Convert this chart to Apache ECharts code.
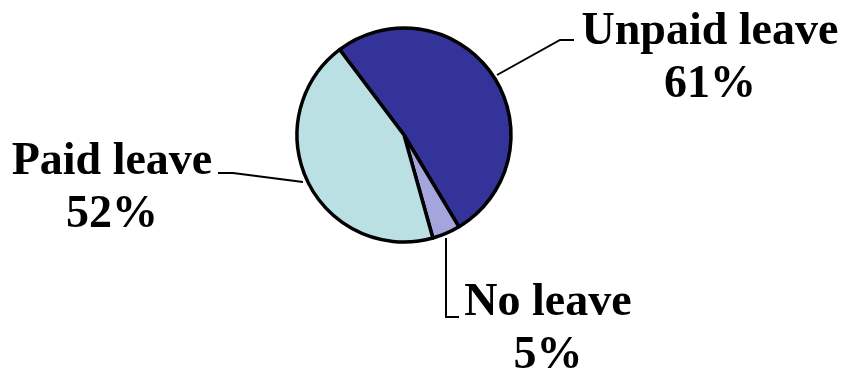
<!DOCTYPE html>
<html>
<head>
<meta charset="utf-8">
<script src="https://cdn.jsdelivr.net/npm/echarts@6/dist/echarts.min.js"></script>
<style>html,body{margin:0;padding:0;background:#fff;}#c{width:845px;height:375px;}</style>
</head>
<body>
<div id="c"></div>
<script>
var categories = ['Unpaid leave', 'No leave', 'Paid leave'];
var values = [61, 5, 52];
var colors = ['#333399', '#A5A5DE', '#BBE0E3'];

// label anchor positions and leader-line points (layout only)
var labelPos = [
  {x: 710, y: 59, line: [[497, 75], [560, 40], [574, 40]]},
  {x: 548, y: 330, line: [[446, 238], [446, 317], [459, 317]]},
  {x: 112, y: 189, line: [[303, 182], [233, 173], [218, 173]]}
];

var chart = echarts.init(document.getElementById('c'), null, {renderer: 'canvas'});
chart.setOption({
  animation: false,
  backgroundColor: '#fff',
  series: [{
    type: 'pie',
    center: [404, 135],
    radius: 107,
    startAngle: 127,
    clockwise: true,
    avoidLabelOverlap: false,
    data: categories.map(function (c, i) {
      return {name: c, value: values[i], itemStyle: {color: colors[i]}};
    }),
    itemStyle: {borderColor: '#000', borderWidth: 3.5},
    label: {
      show: true,
      formatter: '{b}\n{c}%',
      fontFamily: 'Liberation Serif',
      fontWeight: 'bold',
      fontSize: 46,
      lineHeight: 53,
      color: '#000',
      align: 'center'
    },
    labelLine: {show: true, lineStyle: {color: '#000', width: 2}},
    labelLayout: function (p) {
      var L = labelPos[p.dataIndex];
      return {x: L.x, y: L.y, align: 'center', verticalAlign: 'middle', labelLinePoints: L.line};
    },
    emphasis: {disabled: true}
  }]
});
</script>
</body>
</html>
